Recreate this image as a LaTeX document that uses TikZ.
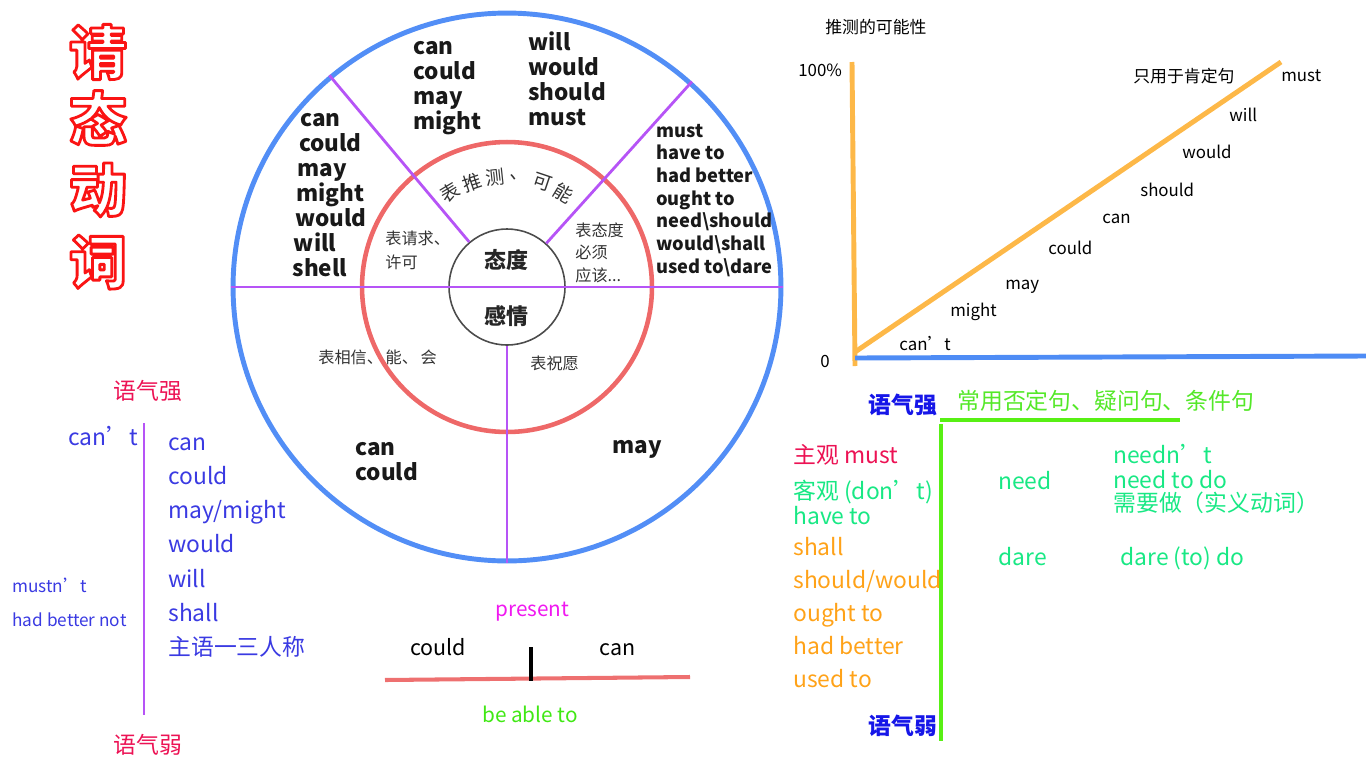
\documentclass[tikz,border=0pt]{standalone}
\usepackage{fontspec}
\setmainfont{Noto Sans CJK SC}

\definecolor{ringblue}{RGB}{82,142,246}
\definecolor{ringred}{RGB}{238,104,104}
\definecolor{spoke}{RGB}{182,84,246}
\definecolor{graphorange}{RGB}{253,184,72}
\definecolor{axisblue}{RGB}{78,140,245}
\definecolor{crimson}{RGB}{236,18,84}
\definecolor{modalblue}{RGB}{58,58,226}
\definecolor{toneblue}{RGB}{22,22,232}
\definecolor{linegreen}{RGB}{88,240,20}
\definecolor{usegreen}{RGB}{84,232,40}
\definecolor{mintgreen}{RGB}{24,232,132}
\definecolor{modalorange}{RGB}{255,162,24}
\definecolor{presentpink}{RGB}{240,24,240}
\definecolor{ablegreen}{RGB}{64,232,20}
\definecolor{timeline}{RGB}{238,112,112}

% hollow red letters: white fill, red stroke
\newcommand\hollow[1]{{\color{white}\special{pdf:literal direct 2 Tr 1.6 w 1 j 0.98 0.08 0.08 RG}#1\special{pdf:literal direct 0 Tr 0.4 w 0 j}}}

\begin{document}
\begin{tikzpicture}[x=0.02cm,y=-0.02cm,
  word/.style={anchor=base west,inner sep=0pt},
  bigword/.style={word,font=\bfseries\fontsize{12.8}{15}\selectfont,text=black!90},
  midword/.style={word,font=\bfseries\fontsize{10.4}{13}\selectfont,text=black!90},
  cnlabel/.style={word,font=\fontsize{9.2}{11}\selectfont,text=black!80},
  corelabel/.style={inner sep=0pt,font=\bfseries\fontsize{12.5}{14}\selectfont,text=black!85},
  graphword/.style={word,font=\fontsize{9.6}{11}\selectfont},
  listword/.style={word,font=\fontsize{13}{15}\selectfont},
  smallword/.style={word,font=\fontsize{9.8}{12}\selectfont},
  titlechar/.style={inner sep=0pt,font=\bfseries\fontsize{33}{36}\selectfont}]

\useasboundingbox (0,0) rectangle (1366,768);

% title
\foreach \ch/\y [count=\i] in {请/52,态/118,动/190,词/262}
  \node[titlechar] (title\i) at (98,\y) {\hollow{\ch}};

% rings
\node[circle,draw=ringblue,line width=2.8pt,minimum size=10.96cm] (outer) at (507,287) {};
\node[circle,draw=ringred,line width=2.6pt,minimum size=5.8cm] (middle) at (507,287) {};
\node[circle,draw=black!70,line width=0.9pt,minimum size=2.32cm] (inner) at (507,287) {};

% spokes
\draw[spoke,line width=1.6pt] (outer.west) -- (outer.east);
\draw[spoke,line width=1.6pt] (inner.south) -- (outer.south);
\draw[spoke,line width=1.6pt] (inner.130) -- (outer.130);
\draw[spoke,line width=1.6pt] (inner.48) -- (outer.48);

% ring words
\foreach \w [count=\i from 0] in {can,could,may,might}
  \node[bigword] (tl\i) at (413,54+25*\i) {\w};
\foreach \w [count=\i from 0] in {will,would,should,must}
  \node[bigword] (tr\i) at (528,50+25*\i) {\w};
\foreach \w [count=\i from 0] in {can,could,may,might,would,will,shell}
  \node[bigword] (lf\i) at (300-1.3*\i,126+25*\i) {\w};
\foreach \w [count=\i from 0] in {must,have to,had better,ought to,need\textbackslash should,would\textbackslash shall,used to\textbackslash dare}
  \node[midword] (rt\i) at (656,137+22.7*\i) {\w};
\node[bigword] (bl0) at (355,455) {can};
\node[bigword] (bl1) at (355,480) {could};
\node[bigword] (br0) at (612,453) {may};

% ring labels
\foreach \ch [count=\i from 0] in {表,推,测,、,可,能}
  \node[inner sep=0pt,font=\fontsize{10.8}{12}\selectfont,text=black!80,rotate=31-12.4*\i]
    (arc\i) at ({507+110*cos(121-12.4*\i)},{287-110*sin(121-12.4*\i)}) {\ch};
\node[cnlabel] (ask0) at (385,244) {表请求、};
\node[cnlabel] (ask1) at (385,268) {许可};
\node[cnlabel] (att0) at (575,236) {表态度};
\node[cnlabel] (att1) at (575,258) {必须};
\node[cnlabel] (att2) at (575,281) {应该...};
\node[cnlabel] (bel) at (318,363) {表相信、\,能、\,会};
\node[cnlabel] (wish) at (530,369) {表祝愿};
\node[corelabel] (core0) at (506,260) {态度};
\node[corelabel] (core1) at (506,316) {感情};

% graph
\coordinate (ytop) at (852,62);
\coordinate (ybot) at (855,366);
\coordinate (orig) at (855,352);
\coordinate (dtop) at (1281,62);
\coordinate (xbeg) at (855,358);
\coordinate (xend) at (1366,356);
\draw[graphorange,line width=2.8pt] (ytop) -- (ybot);
\draw[graphorange,line width=2.8pt] (orig) -- (dtop);
\draw[axisblue,line width=2.8pt] (xbeg) -- (xend);
\node[graphword] (gtitle) at (825,33) {推测的可能性};
\node[graphword] (g100) at (798,76) {100\%};
\node[graphword] (g0) at (820,367) {0};
\node[graphword] (gpos) at (1133,82) {只用于肯定句};
\foreach \w/\x/\y [count=\i] in {must/1281/81,will/1229/121,would/1182/158,should/1140/196,can/1102/223,could/1048/254,may/1005/289,might/950/316,can’t/899/350}
  \node[graphword] (g\i) at (\x,\y) {\w};

% tone table, right
\coordinate (gh0) at (940,420);
\coordinate (gh1) at (1180,420);
\coordinate (gv0) at (941,424);
\coordinate (gv1) at (941,741);
\draw[linegreen,line width=2.4pt] (gh0) -- (gh1);
\draw[linegreen,line width=2.4pt] (gv0) -- (gv1);
\node[listword,text=toneblue,font=\bfseries\fontsize{13}{15}\selectfont] (rstrong) at (868,413) {语气强};
\node[listword,text=toneblue,font=\bfseries\fontsize{13}{15}\selectfont] (rweak) at (868,734) {语气弱};
\node[listword,text=usegreen] (ruse) at (957,409) {常用否定句、疑问句、条件句};
\node[listword,text=crimson] (rsub) at (793,463) {主观 must};
\node[listword,text=mintgreen] (robj) at (793,499) {客观 (don’t)};
\node[listword,text=mintgreen] (rhave) at (793,524) {have to};
\foreach \w [count=\i from 0] in {shall,should/would,ought to,had better,used to}
  \node[listword,text=modalorange] (ro\i) at (793,555+33*\i) {\w};
\node[listword,text=mintgreen] (rneed) at (998,489) {need};
\node[listword,text=mintgreen] (rneed0) at (1113,463) {needn’t};
\node[listword,text=mintgreen] (rneed1) at (1113,488) {need to do};
\node[listword,text=mintgreen] (rneed2) at (1113,511) {需要做（实义动词）};
\node[listword,text=mintgreen] (rdare) at (998,565) {dare};
\node[listword,text=mintgreen] (rdare0) at (1120,565) {dare (to) do};

% tone table, left
\coordinate (lv0) at (144,423);
\coordinate (lv1) at (144,715);
\draw[spoke,line width=1.1pt] (lv0) -- (lv1);
\node[listword,text=crimson] (lstrong) at (113,399) {语气强};
\node[listword,text=crimson] (lweak) at (113,753) {语气弱};
\node[listword,text=modalblue] (lcant) at (68,445) {can’t};
\foreach \w [count=\i from 0] in {can,could,may/might,would,will,shall,主语一三人称}
  \node[listword,text=modalblue] (lm\i) at (168,450+34.3*\i) {\w};
\node[smallword,text=modalblue] (lmust) at (12,592) {mustn’t};
\node[smallword,text=modalblue] (lbetter) at (12,626) {had better not};

% time line
\coordinate (tl0) at (385,680);
\coordinate (tl1) at (690,677);
\coordinate (tick0) at (531,647);
\coordinate (tick1) at (531,681);
\draw[timeline,line width=2.3pt] (tl0) -- (tl1);
\draw[black,line width=2.3pt] (tick0) -- (tick1);
\node[listword,text=presentpink,font=\fontsize{11.8}{14}\selectfont] (present) at (495,616) {present};
\node[listword,text=black,font=\fontsize{12.2}{14}\selectfont] (past) at (410,655) {could};
\node[listword,text=black,font=\fontsize{12.2}{14}\selectfont] (now) at (599,655) {can};
\node[listword,text=ablegreen,font=\fontsize{11.8}{14}\selectfont] (able) at (482,722) {be able to};

\end{tikzpicture}
\end{document}
